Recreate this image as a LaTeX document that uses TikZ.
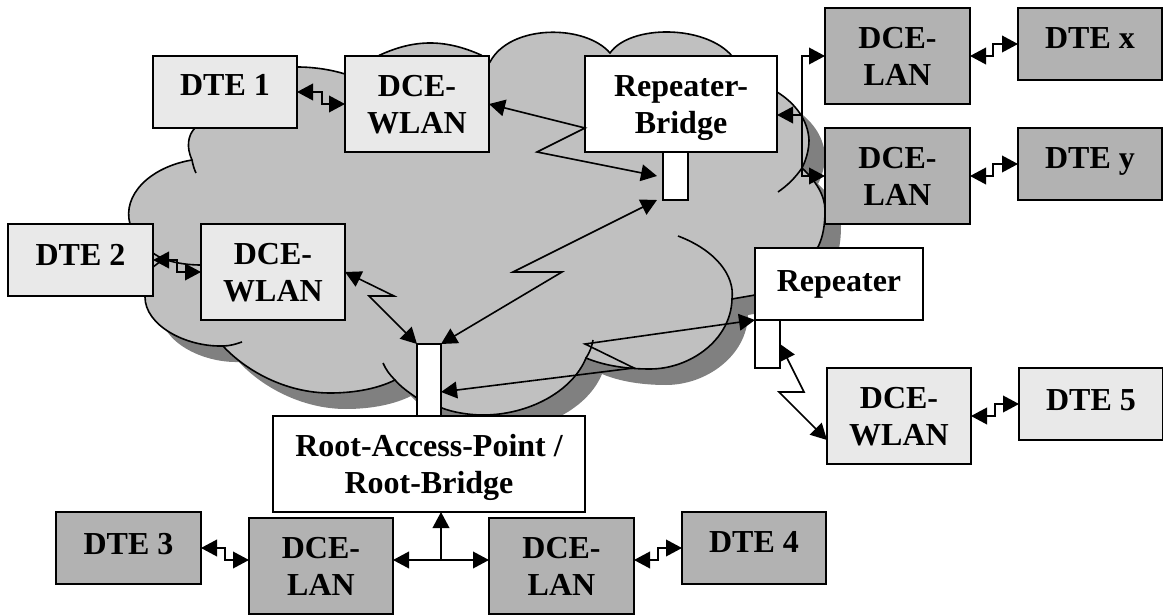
\documentclass[tikz,border=0pt]{standalone}
\usepackage{fontspec}
\setmainfont{Liberation Serif}
\usetikzlibrary{arrows.meta}
\definecolor{cloudfill}{HTML}{C0C0C0}
\definecolor{cloudshade}{HTML}{808080}
\definecolor{lightfill}{HTML}{E9E9E9}
\definecolor{darkfill}{HTML}{B2B2B2}
\tikzset{
  boxbase/.style={draw=black,line width=1.25pt,inner sep=0pt,outer sep=0pt,align=center,
    font=\fontsize{24}{28}\selectfont\bfseries},
  lightbox/.style={boxbase,fill=lightfill},
  darkbox/.style={boxbase,fill=darkfill},
  whitebox/.style={boxbase,fill=white},
  outline/.style={line width=1.2pt,draw=black},
  tail/.style={line width=1.2pt,draw=black},
  link/.style={line width=1.2pt,draw=black,line join=miter,
    {Triangle[length=12pt,width=12.5pt]}-{Triangle[length=12pt,width=12.5pt]}},
  linkone/.style={line width=1.2pt,draw=black,-{Triangle[length=12pt,width=12.5pt]}},
}
\newcommand\pbox[7]{%
  \pgfmathsetmacro\pw{(#5-#3)*.75}\pgfmathsetmacro\ph{(#6-#4)*.75}%
  \node[#2,minimum width=\pw pt,minimum height=\ph pt] (#1) at ({(#3+#5)/2},{(#4+#6)/2}) {#7};}
\newcommand\lift[2]{\raisebox{#1}[0pt][0pt]{#2}}
\newcommand\two[2]{\lift{-9pt}{\begin{tabular}{@{}c@{}}#1\\#2\end{tabular}}}
\def\cloudpath{(192,160) .. controls (186,147) and (188,135) .. (195,128)
  .. controls (220,90) and (260,68) .. (297,67)
  .. controls (315,67) and (332,70) .. (345,74) -- (380,55)
  .. controls (415,39) and (445,39) .. (481,55) -- (490,62)
  .. controls (510,24) and (585,24) .. (610,53)
  .. controls (630,24.5) and (705,24.5) .. (732,56) -- (777,92)
  .. controls (795,103) and (808,120) .. (809,140)
  .. controls (809,150) and (806,160) .. (802,168)
  .. controls (815,180) and (825,195) .. (825,210)
  .. controls (825,225) and (823,237) .. (818,247) -- (755,295) -- (732,299)
  .. controls (731,340) and (690,369) .. (650,369)
  .. controls (628,369) and (605,366) .. (586,358)
  .. controls (572,392) and (528,415) .. (483,415)
  .. controls (468,415) and (452,412) .. (442,408) -- (417,398)
  .. controls (408,392) and (400,386) .. (395,380)
  .. controls (375,390) and (350,393) .. (330,393)
  .. controls (285,393) and (245,370) .. (223,346)
  .. controls (185,347) and (145,325) .. (145,297) -- (130,224)
  .. controls (122,195) and (150,167) .. (192,160) -- cycle}
\begin{document}
\begin{tikzpicture}[x=.75pt,y=-.75pt]
\useasboundingbox (0,0) rectangle (1163,616);
% cloud
\fill[cloudshade,shift={(16,16)}] \cloudpath;
\fill[cloudfill] \cloudpath;
\draw[outline] \cloudpath;
% inner arcs of the cloud
\draw[tail] (192,160) .. controls (193,165) and (194,169) .. (196,173);
\draw[tail] (802,168) .. controls (795,178) and (788,185) .. (778,192);
\draw[tail] (732,299) .. controls (735,275) and (715,250) .. (678,236);
\draw[tail] (586,358) .. controls (590,352) and (592,346) .. (593,340);
\draw[tail] (395,380) .. controls (390,375) and (386,370) .. (383,363);
\draw[tail] (223,346) .. controls (230,346) and (236,344) .. (242,342);
\draw[tail] (153,253) .. controls (165,262) and (185,265) .. (201,265);
\draw[tail] (153,267) -- (165,258);
% boxes
\pbox{dteone}{lightbox}{153}{56}{297}{128}{\lift{-2.5pt}{DTE 1}}
\pbox{wlanone}{lightbox}{345}{56}{489}{152}{\two{DCE-}{WLAN}}
\pbox{rb}{whitebox}{585}{56}{777}{152}{\two{Repeater-}{Bridge}}
\pbox{rbant}{whitebox}{663}{152}{688}{200}{}
\pbox{lanx}{darkbox}{825}{8}{970}{104}{\two{DCE-}{LAN}}
\pbox{dtex}{darkbox}{1018}{8}{1162}{80}{\lift{-3.5pt}{DTE x}}
\pbox{lany}{darkbox}{825}{128}{970}{224}{\two{DCE-}{LAN}}
\pbox{dtey}{darkbox}{1018}{128}{1162}{200}{\lift{-3.5pt}{DTE y}}
\pbox{dtetwo}{lightbox}{8}{224}{153}{296}{\lift{-4pt}{DTE 2}}
\pbox{wlantwo}{lightbox}{201}{224}{345}{320}{\two{DCE-}{WLAN}}
\pbox{rootant}{whitebox}{417}{344}{441}{416}{}
\pbox{root}{whitebox}{273}{416}{585}{512}{\two{Root-Access-Point /}{Root-Bridge}}
\pbox{rep}{whitebox}{755}{248}{923}{320}{\lift{-5.5pt}{Repeater}}
\pbox{repant}{whitebox}{755}{320}{780}{368}{}
\pbox{wlanfive}{lightbox}{827}{368}{971}{464}{\two{DCE-}{WLAN}}
\pbox{dtefive}{lightbox}{1019}{368}{1163}{440}{\lift{-4.5pt}{DTE 5}}
\pbox{dtethree}{darkbox}{56}{512}{201}{584}{\lift{-5pt}{DTE 3}}
\pbox{lanl}{darkbox}{249}{518}{393}{614}{\two{DCE-}{LAN}}
\pbox{lanr}{darkbox}{489}{518}{634}{614}{\two{DCE-}{LAN}}
\pbox{dtefour}{darkbox}{682}{512}{826}{584}{\lift{-3.5pt}{DTE 4}}
% connection points
\coordinate (rbw) at (585,128);
\coordinate (rbe) at (777,115);
\coordinate (rbtipa) at (657,176);
\coordinate (rbtipb) at (657,200);
\coordinate (rootin) at (441,392);
\coordinate (wlanfivein) at (827,440);
\coordinate (lanlout) at (249,560);
\coordinate (lanle) at (393,560);
\coordinate (lanrw) at (489,560);
\coordinate (lanre) at (634,560);
\coordinate (roots) at (441,512);
\coordinate (busj) at (441,560);
\coordinate (vtop) at (802,56);
\coordinate (vmid) at (802,115);
\coordinate (vbot) at (802,176);
% connectors
\draw[link] (dteone.east) -- (322,92) -- (322,104) -- (wlanone.west);
\draw[link] (dtetwo.east) -- (177,260) -- (177,272) -- (wlantwo.west);
\draw[link] (lanx.east) -- (993,56) -- (993,44) -- (dtex.west);
\draw[link] (lany.east) -- (993,176) -- (993,164) -- (dtey.west);
\draw[link] (wlantwo.east) -- (394,296) -- (369,296) -- (rootant.north west);
\draw[link] (wlanone.east) -- (rbw) -- (537,152) -- (rbtipa);
\draw[link] (rbtipb) -- (513,272) -- (562,272) -- (rootant.north east);
\draw[link] (rep.south west) -- (585,344) -- (634,368) -- (rootin);
\draw[link] (repant.east) -- (804,392) -- (779,392) -- (wlanfivein);
\draw[link] (dtefive.west) -- (995,404) -- (995,416) -- (wlanfive.east);
\draw[link] (dtethree.east) -- (225,548) -- (225,560) -- (lanlout);
\draw[link] (lanre) -- (658,560) -- (658,548) -- (dtefour.west);
\draw[link] (lanle) -- (lanrw);
\draw[linkone] (busj) -- (roots);
\draw[linkone] (vmid) -- (rbe);
\draw[linkone] (vmid) -- (vtop) -- (lanx.west);
\draw[linkone] (vmid) -- (vbot) -- (lany.west);
\end{tikzpicture}
\end{document}
